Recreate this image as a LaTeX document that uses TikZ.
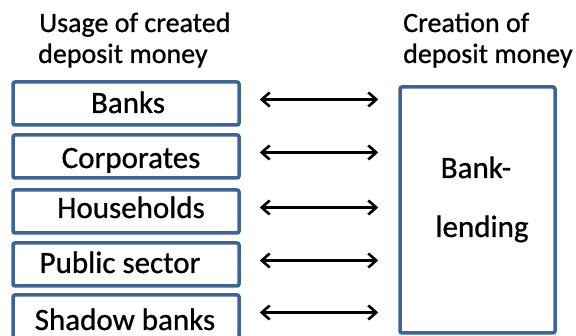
\documentclass[tikz,border=0pt]{standalone}
\usepackage{fontspec}
\setmainfont{Carlito}[FakeBold=0.8]
\usetikzlibrary{arrows.meta,calc}
\definecolor{boxblue}{RGB}{62,100,148}
\tikzset{
  box/.style={draw=boxblue, line width=3.5pt, rounded corners=2pt, inner sep=0pt, fill=white},
  head/.style={font=\fontsize{28}{31}\selectfont, anchor=base west, inner sep=0pt},
  lbl/.style={font=\fontsize{31}{34}\selectfont, anchor=base, inner sep=0pt},
  arr/.style={line width=2.8pt, {Straight Barb[length=8pt,width=14pt,line width=2.6pt]}-{Straight Barb[length=8pt,width=14pt,line width=2.6pt]}}
}
\begin{document}
\begin{tikzpicture}[x=1pt,y=-1pt]
\useasboundingbox (0,0) rectangle (576,336);
% headers
\node[head] (h1) at (39,32) {Usage of created};
\node[head] (h2) at (38,63) {deposit money};
\node[head] (h3) at (403,32) {Creation of};
\node[head] (h4) at (403,63) {deposit money};
% left boxes
\node[box, minimum width=226pt, minimum height=43pt] (b1) at (126,103.5) {};
\node[box, minimum width=226pt, minimum height=43pt] (b2) at (126,156.5) {};
\node[box, minimum width=226pt, minimum height=43pt] (b3) at (126,211.5) {};
\node[box, minimum width=226pt, minimum height=43pt] (b4) at (126,264.5) {};
\node[box, minimum width=226pt, minimum height=43pt] (b5) at (126,316.5) {};
\node[lbl] (t1) at (128,113) {Banks};
\node[lbl] (t2) at (131,168) {Corporates};
\node[lbl] (t3) at (131,218) {Households};
\node[lbl] (t4) at (120,273) {Public sector};
\node[lbl] (t5) at (125,330) {Shadow banks};
% right box
\node[box, minimum width=155pt, minimum height=246pt] (R) at (477.5,210) {};
\node[lbl] (r1) at (476,178) {Bank-};
\node[lbl] (r2) at (482,237) {lending};
% arrows
\foreach \i in {1,...,5}{
  \draw[arr] ($(b\i.east)+(19pt,4pt)$) -- ($(b\i.east -| R.west)+(-20pt,4pt)$);
}
\end{tikzpicture}
\end{document}
